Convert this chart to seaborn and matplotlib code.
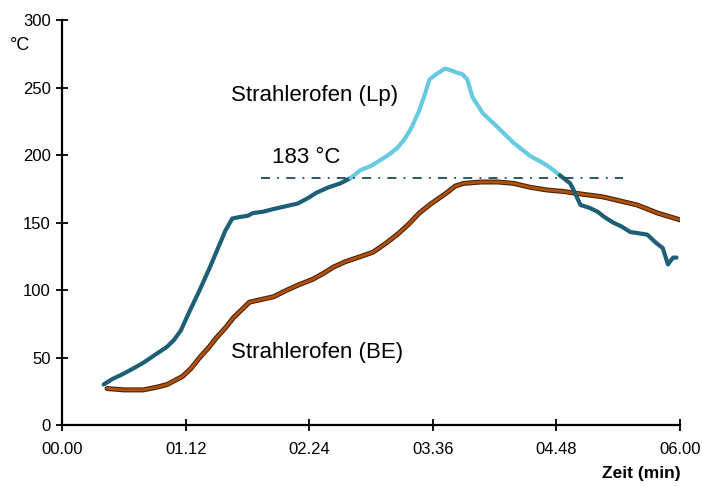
import matplotlib
matplotlib.use("Agg")
import matplotlib.pyplot as plt
import seaborn as sns
import pandas as pd

# Time in seconds, temperature in °C
lp_time = [24, 29, 34, 40, 47, 54, 61, 65, 69, 74, 80, 86, 91, 95, 99, 103, 108,
           111, 117, 123, 130, 137, 143, 148, 155, 162, 168, 174, 180, 185, 190, 195,
           199, 203, 208, 211, 214, 218, 223, 226, 230, 233, 236, 239, 245, 250, 255,
           263, 268, 273, 279, 284, 290, 296, 298, 302, 307, 312, 316, 321, 326, 331,
           336, 341, 346, 350, 353, 356, 358]
lp_temp = [30, 34, 37, 41, 46, 52, 58, 63, 70, 84, 100, 117, 132, 144, 153, 154, 155,
           157, 158, 160, 162, 164, 168, 172, 176, 179, 183, 189, 192, 196, 200, 205,
           211, 219, 233, 244, 256, 260, 264, 263, 261, 260, 256, 243, 231, 225, 219,
           209, 204, 199, 195, 191, 185, 179, 174, 163, 161, 158, 154, 150, 147, 143,
           142, 141, 135, 131, 119, 124, 124]

be_time = [26, 36, 47, 55, 61, 70, 75, 80, 85, 90, 95, 100, 105, 109, 116, 123, 131,
           138, 146, 153, 158, 165, 172, 181, 189, 196, 202, 208, 215, 224, 229, 234,
           244, 254, 263, 273, 283, 292, 303, 315, 325, 335, 347, 360]
be_temp = [27, 26, 26, 28, 30, 36, 42, 50, 57, 65, 72, 80, 86, 91, 93, 95, 100,
           104, 108, 113, 117, 121, 124, 128, 135, 142, 149, 157, 164, 172, 177, 179,
           180, 180, 179, 176, 174, 173, 171, 169, 166, 163, 157, 152]

x_ticks = [0, 72, 144, 216, 288, 360]
x_labels = ["00.00", "01.12", "02.24", "03.36", "04.48", "06.00"]
y_ticks = [0, 50, 100, 150, 200, 250, 300]
solder_temp = 183
solder_span = [116, 327]

sns.set_theme(style="white")
plt.rcParams["font.family"] = ["Liberation Sans", "DejaVu Sans"]

fig = plt.figure(figsize=(7.02, 4.86), dpi=100)
ax = fig.add_axes([0.089, 0.1255, 0.8796, 0.8333])

lp = pd.DataFrame({"t": lp_time, "T": lp_temp})
be = pd.DataFrame({"t": be_time, "T": be_temp})

dark_teal = "#1d5f74"
light_cyan = "#66cbe0"
brown = "#b0520f"

# Lp curve: dark below the solder temperature, light cyan above it
hot = lp["T"] >= 181
first = hot.idxmax()
last = hot[::-1].idxmax()
seg_a = lp.loc[:first]
seg_b = lp.loc[first:last]
seg_c = lp.loc[last:]

sns.lineplot(data=be, x="t", y="T", ax=ax, color="#4a2206", linewidth=3.6, sort=False)
sns.lineplot(data=be, x="t", y="T", ax=ax, color=brown, linewidth=2.0, sort=False)
for seg, col in [(seg_a, dark_teal), (seg_b, light_cyan), (seg_c, dark_teal)]:
    sns.lineplot(data=seg, x="t", y="T", ax=ax, color=col, linewidth=3.0, sort=False)

ax.plot(solder_span, [solder_temp, solder_temp], color="#1b4a5a",
        linestyle=(0, (5, 4, 1, 4)), linewidth=1.3)

ax.set_xlim(0, 360)
ax.set_ylim(0, 300)
ax.set_xticks(x_ticks)
ax.set_xticklabels(x_labels)
ax.set_yticks(y_ticks)
ax.set_xlabel("")
ax.set_ylabel("")
for s in ["top", "right"]:
    ax.spines[s].set_visible(False)
for s in ["left", "bottom"]:
    ax.spines[s].set_color("black")
    ax.spines[s].set_linewidth(1.6)
ax.tick_params(axis="both", direction="inout", length=9, width=1.3, color="black",
               labelsize=12, pad=4, labelcolor="black", left=True, bottom=True)
ax.tick_params(axis="x", pad=8)
ax.grid(False)

ax.text(98, 244, "Strahlerofen (Lp)", fontsize=16, color="black", ha="left", va="center")
ax.text(98, 54, "Strahlerofen (BE)", fontsize=16, color="black", ha="left", va="center")
ax.text(122, 198, "183 °C", fontsize=16, color="black", ha="left", va="center")
fig.text(10 / 702, 1 - 45 / 486, "°C", fontsize=13, color="black", ha="left", va="center")
fig.text(681 / 702, 1 - 473 / 486, "Zeit (min)", fontsize=12.5, fontweight="bold",
         color="black", ha="right", va="center")

fig.savefig("out.png", dpi=100, facecolor="white")
